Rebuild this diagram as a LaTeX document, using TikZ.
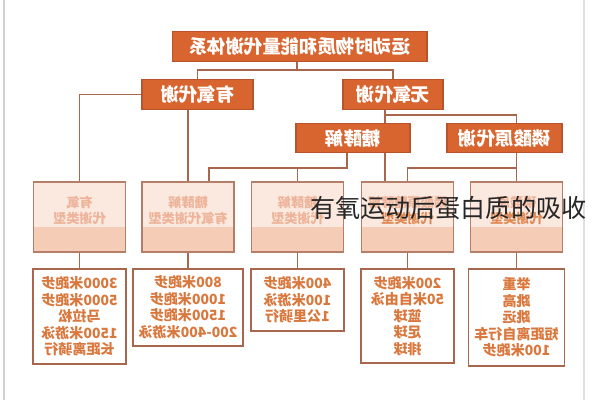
\documentclass[tikz,border=0pt]{standalone}
\usepackage{fontspec}
\setmainfont{Noto Sans CJK SC}
\usepackage{xcolor}
\usepackage{tikz}

\definecolor{orabox}{HTML}{D8652F}
\definecolor{oraedge}{HTML}{B8532B}
\definecolor{linkc}{HTML}{A8674D}
\definecolor{headfill}{HTML}{FBE8DF}
\definecolor{headband}{HTML}{F5CCB6}
\definecolor{headtext}{HTML}{EDB49A}
\definecolor{headdeep}{HTML}{E08A55}
\definecolor{listtext}{HTML}{D9773C}

\begin{document}
\begin{tikzpicture}[
    x=0.02cm,y=-0.02cm,
    catbox/.style={draw=oraedge,fill=orabox,text=white,line width=0.6pt,
        font=\bfseries\fontsize{10.5}{12}\selectfont,minimum height=0.54cm},
    headbox/.style={draw=linkc!85,fill=headfill,line width=0.8pt,
        minimum width=1.84cm,minimum height=1.4cm,
        path picture={\fill[headband] ([yshift=0.5cm]path picture bounding box.south west)
            rectangle (path picture bounding box.south east);}},
    headtxt/.style={text=headtext,align=center,yshift=0.14cm,
        font=\bfseries\fontsize{7.5}{9.1}\selectfont},
    listbox/.style={draw=linkc,fill=white,line width=1pt,anchor=north,
        minimum width=1.86cm,text=listtext,align=center,
        font=\bfseries\fontsize{8}{9.4}\selectfont},
    link/.style={draw=linkc,line width=0.9pt}
]
\fill[white] (0,0) rectangle (597,400);
\useasboundingbox (0,0) rectangle (597,400);
\draw[gray!35,line width=0.6pt] (4,0) -- (4,400);
\draw[gray!25,line width=0.6pt] (584,0) -- (584,400);

% the whole chart is printed mirrored
\begin{scope}[shift={(597,0)},xscale=-1,every node/.append style={transform shape}]
\node[catbox,minimum width=5.1cm] (title) at (297.5,46.5) {运动时物质和能量代谢体系};
\node[catbox,minimum width=2.22cm] (aer) at (399.5,94.5) {有氧代谢};
\node[catbox,minimum width=2.0cm] (anaer) at (204,94.5) {无氧代谢};
\node[catbox,minimum width=2.28cm,minimum height=0.56cm] (glyc) at (244,138) {糖酵解};
\node[catbox,minimum width=2.3cm,minimum height=0.56cm] (phos) at (92.5,138) {磷酸原代谢};

\node[headbox,label={[headtxt]center:{有氧\\代谢类型}}] (h1) at (517.5,217) {};
\node[headbox,label={[headtxt]center:{糖酵解\\有氧代谢类型}}] (h2) at (409,217) {};
\node[headbox,label={[headtxt]center:{糖酵解\\代谢类型}}] (h3) at (299.5,217) {};
\node[headbox,label={[headtxt]center:{磷酸原糖酵解\\{\color{headdeep}代谢类型}}}] (h4) at (189.5,217) {};
\node[headbox,label={[headtxt]center:{磷酸原\\{\color{headdeep}代谢类型}}}] (h5) at (80.5,217) {};

\node[listbox,minimum height=1.9cm] (t1) at (517.5,268)
    {3000米跑步\\5000米跑步\\马拉松\\1500米游泳\\长距离骑行};
\node[listbox,minimum height=1.54cm] (t2) at (409,268)
    {800米跑步\\1000米跑步\\1500米跑步\\200-400米游泳};
\node[listbox,minimum height=1.24cm] (t3) at (299.5,268)
    {400米跑步\\100米游泳\\1公里骑行};
\node[listbox,minimum height=1.88cm] (t4) at (189.5,268)
    {200米跑步\\50米自由泳\\篮球\\足球\\排球};
\node[listbox,minimum height=1.94cm] (t5) at (80.5,268)
    {举重\\跳高\\跳远\\短距离自行车\\100米跑步};

\coordinate (tb) at (300,70);
\coordinate (ab) at (212,115);
\coordinate (gL) at (250,168);
\coordinate (g2) at (388,168);
\coordinate (g4) at (212,168);

\draw[link] (title.south -| tb) -- (tb);
\draw[link] (aer.north) |- (tb) -| (anaer.north);
\draw[link] (aer.east) -| (h1.north);
\draw[link] (aer.south -| h2.north) -- (h2.north);
\draw[link] (anaer.south -| ab) -- (ab |- glyc.north);
\draw[link] (ab) -| (phos.north -| h5.north);
\draw[link] (glyc.south -| gL) -- (gL) -- (g2) -- (g2 |- h2.north);
\draw[link] (gL -| h3.north) -- (h3.north);
\draw[link] (glyc.south -| g4) -- (g4 |- h4.north);
\draw[link] (phos.south -| h5.north) -- (h5.north);
\draw[link] (h5.north |- gL) -| (h4.north);
\foreach \i in {1,...,5}
    \draw[link] (h\i.south) -- (t\i.north);
\end{scope}

\node[anchor=west,text=black!85,font=\fontsize{14.3}{16}\selectfont,inner sep=1pt] (mark)
    at (308,208) {有氧运动后蛋白质的吸收};
\end{tikzpicture}
\end{document}
